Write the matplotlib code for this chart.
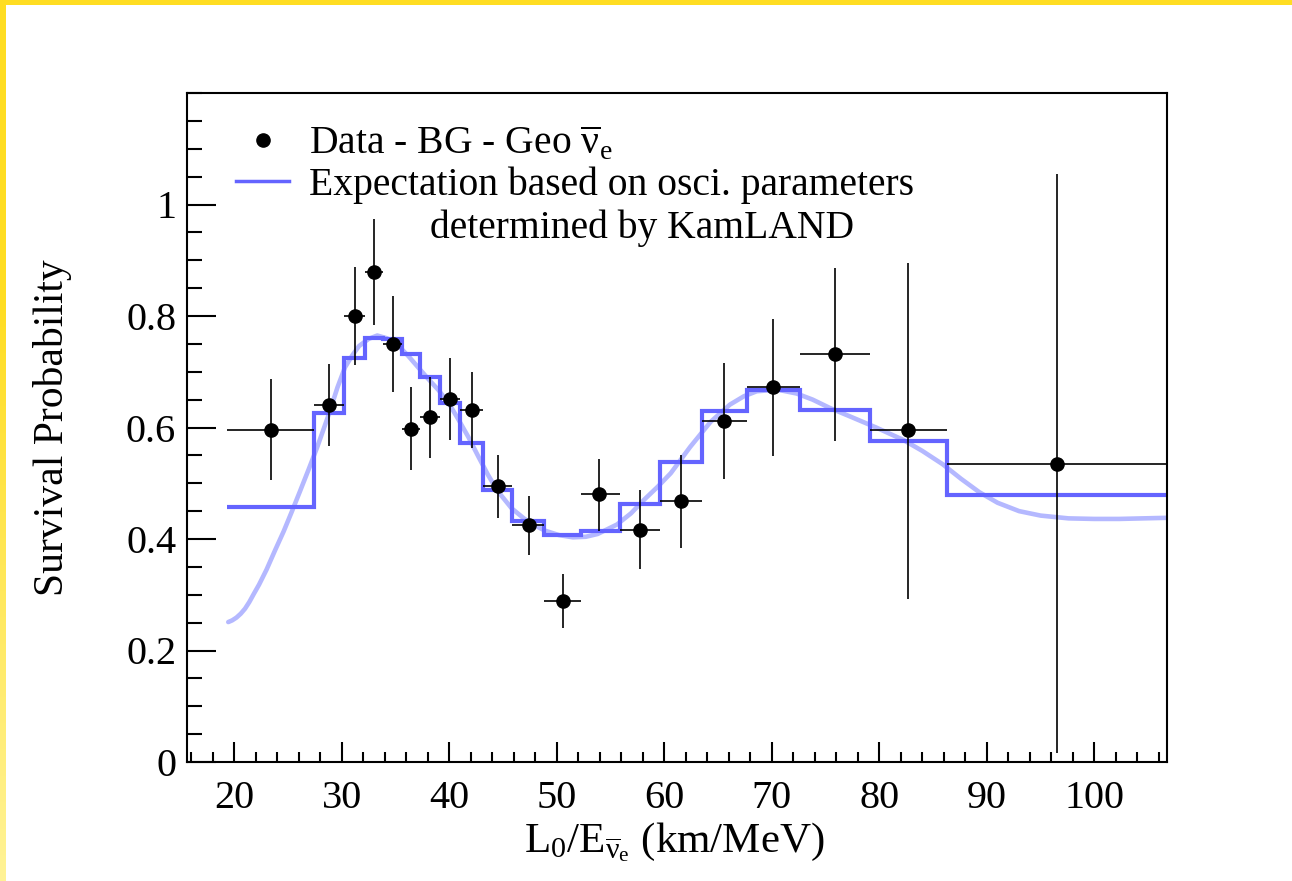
import matplotlib
matplotlib.use("Agg")
import matplotlib.pyplot as plt
import numpy as np
from matplotlib.ticker import MultipleLocator, FixedLocator, FuncFormatter
from matplotlib.lines import Line2D
from matplotlib.patches import Rectangle

plt.rcParams['font.family'] = ['Liberation Serif', 'DejaVu Serif']
plt.rcParams['mathtext.fontset'] = 'custom'
plt.rcParams['mathtext.rm'] = 'Liberation Serif'
plt.rcParams['mathtext.it'] = 'Liberation Serif:italic'

# ---- data ----
bin_edges = [19.32, 27.41, 30.23, 32.16, 33.86, 35.57, 37.30, 39.10, 41.00, 43.16,
             45.86, 48.84, 52.22, 55.88, 59.60, 63.48, 67.67, 72.63, 79.13, 86.27, 106.76]
expect_hist = [0.457, 0.626, 0.725, 0.760, 0.758, 0.731, 0.691, 0.644, 0.572, 0.487,
               0.432, 0.407, 0.414, 0.462, 0.538, 0.630, 0.667, 0.632, 0.575, 0.479]

data_x = [23.39, 28.84, 31.20, 33.02, 34.73, 36.41, 38.20, 40.06, 42.11, 44.56,
          47.39, 50.55, 53.96, 57.74, 61.53, 65.55, 70.14, 75.91, 82.70, 96.56]
data_y = [0.596, 0.641, 0.800, 0.879, 0.750, 0.597, 0.618, 0.651, 0.631, 0.495,
          0.425, 0.289, 0.480, 0.417, 0.468, 0.611, 0.673, 0.731, 0.595, 0.535]
data_y_hi = [0.687, 0.714, 0.887, 0.974, 0.836, 0.672, 0.691, 0.724, 0.699, 0.551,
             0.477, 0.338, 0.544, 0.487, 0.551, 0.715, 0.795, 0.886, 0.895, 1.055]
data_y_lo = [0.506, 0.567, 0.712, 0.784, 0.664, 0.523, 0.545, 0.578, 0.563, 0.437,
             0.372, 0.241, 0.415, 0.346, 0.384, 0.507, 0.549, 0.576, 0.292, 0.017]

curve_x = [19.44, 19.8, 20.2, 20.6, 21.0, 21.4, 21.8, 22.3, 23.0, 23.8, 24.6, 25.35, 26.1, 26.9,
           27.7, 28.8, 29.6, 30.3, 31.0, 31.6, 32.5, 33.3, 34.2, 35.3, 36.2, 37.1,
           38.0, 39.0, 40.0, 40.8, 41.8, 42.7, 43.6, 44.5, 45.8, 47.0, 48.0, 48.9,
           50.2, 51.5, 52.7, 53.8, 55.6, 56.9, 58.1, 59.4, 60.6, 62.4, 64.3, 66.1,
           67.4, 68.6, 70.5, 72.3, 73.8, 75.4, 77.5, 79.7, 82.2, 84.0, 85.9, 87.6,
           89.3, 91.0, 93.0, 95.0, 97.6, 100.0, 102.3, 104.5, 106.8]
curve_y = [0.251, 0.254, 0.259, 0.266, 0.275, 0.287, 0.301, 0.318, 0.345, 0.380, 0.414, 0.449,
           0.485, 0.524, 0.564, 0.624, 0.672, 0.708, 0.730, 0.746, 0.759, 0.765, 0.760, 0.746,
           0.728, 0.708, 0.688, 0.667, 0.642, 0.616, 0.582, 0.548, 0.515, 0.486, 0.455, 0.436,
           0.424, 0.415, 0.407, 0.403, 0.404, 0.409, 0.426, 0.446, 0.470, 0.494, 0.518, 0.565,
           0.610, 0.641, 0.656, 0.665, 0.668, 0.661, 0.650, 0.635, 0.618, 0.600, 0.578, 0.558,
           0.534, 0.508, 0.484, 0.465, 0.450, 0.442, 0.437, 0.436, 0.436, 0.437, 0.438]

x_ticks = [20, 30, 40, 50, 60, 70, 80, 90, 100]
y_ticks = [0, 0.2, 0.4, 0.6, 0.8, 1.0]

# ---- figure ----
fig = plt.figure(figsize=(12.92, 8.81), dpi=100)
fig.patch.set_facecolor('white')
# yellow border: top band and a left band that fades towards the bottom
fig.patches.append(Rectangle((0, 1 - 5 / 881), 1, 5 / 881, transform=fig.transFigure,
                             facecolor='#ffdd22', edgecolor='none', zorder=10))
bax = fig.add_axes([0, 0, 6 / 1292, 1])
n = 881
t = np.clip((np.arange(n) - 300) / (n - 300), 0, 1)[:, None]
top_c = np.array([1.0, 221 / 255, 34 / 255])
bot_c = np.array([1.0, 243 / 255, 150 / 255])
grad = (1 - t)[:, :, None] * top_c + t[:, :, None] * bot_c
bax.imshow(grad, aspect='auto', extent=(0, 1, 0, 1), origin='upper')
bax.set_axis_off()

ax = fig.add_axes([187.3 / 1292, (881 - 762) / 881, (1167 - 187.3) / 1292, (762 - 93) / 881])

step_color = '#6464ff'
curve_color = '#b4b8ff'

ax.plot(curve_x, curve_y, color=curve_color, lw=3.3, zorder=1, solid_capstyle='round',
        solid_joinstyle='round')
ax.stairs(expect_hist, bin_edges, color=step_color, lw=3.0, zorder=2, baseline=None)

dx = np.array(data_x)
edges = np.array(bin_edges)
xerr = [dx - edges[:-1], edges[1:] - dx]
dy = np.array(data_y)
yerr = [dy - np.array(data_y_lo), np.array(data_y_hi) - dy]
ax.errorbar(dx, dy, xerr=xerr, yerr=yerr, fmt='o', color='black', ms=9.5,
            elinewidth=1.2, capsize=0, zorder=3)

ax.set_xlim(15.63, 106.76)
ax.set_ylim(0, 1.2)

ax.xaxis.set_major_locator(FixedLocator(x_ticks))
ax.xaxis.set_minor_locator(MultipleLocator(2))
ax.yaxis.set_major_locator(FixedLocator(y_ticks))
ax.yaxis.set_minor_locator(MultipleLocator(0.05))
ax.yaxis.set_major_formatter(FuncFormatter(lambda v, p: '%g' % v))
ax.xaxis.set_major_formatter(FuncFormatter(lambda v, p: '%g' % v))

ax.tick_params(axis='both', which='both', direction='in', width=1.5, top=False, right=False,
               labelsize=29)
ax.tick_params(axis='x', which='major', length=14.4, pad=13)
ax.tick_params(axis='x', which='minor', length=7.2)
ax.tick_params(axis='y', which='major', length=21, pad=8)
ax.tick_params(axis='y', which='minor', length=10.8)
for s in ax.spines.values():
    s.set_linewidth(1.5)

ax.set_ylabel('Survival Probability', fontsize=30)
ax.yaxis.set_label_coords(-0.118, 0.5)
ax.set_xlabel(r'L$_0$/E$_{\overline{\mathrm{\nu}}_\mathrm{e}}$ (km/MeV)', fontsize=31)
ax.xaxis.set_label_coords(0.497, -0.088)

h1 = Line2D([], [], marker='o', ls='none', color='black', ms=9.5)
h2 = Line2D([], [], color=step_color, lw=2.5)
leg = ax.legend([h1, h2],
                [r'Data - BG - Geo $\overline{\mathrm{\nu}}_\mathrm{e}$',
                 'Expectation based on osci. parameters'],
                loc='upper left', bbox_to_anchor=(0.0497, 0.953), frameon=False,
                fontsize=28.5, borderpad=0, borderaxespad=0, handlelength=1.34,
                handletextpad=0.5, labelspacing=0.08)
ax.text(0.248, 0.798, 'determined by KamLAND', transform=ax.transAxes, fontsize=28.5,
        ha='left', va='center')

fig.savefig('out.png', dpi=100)
